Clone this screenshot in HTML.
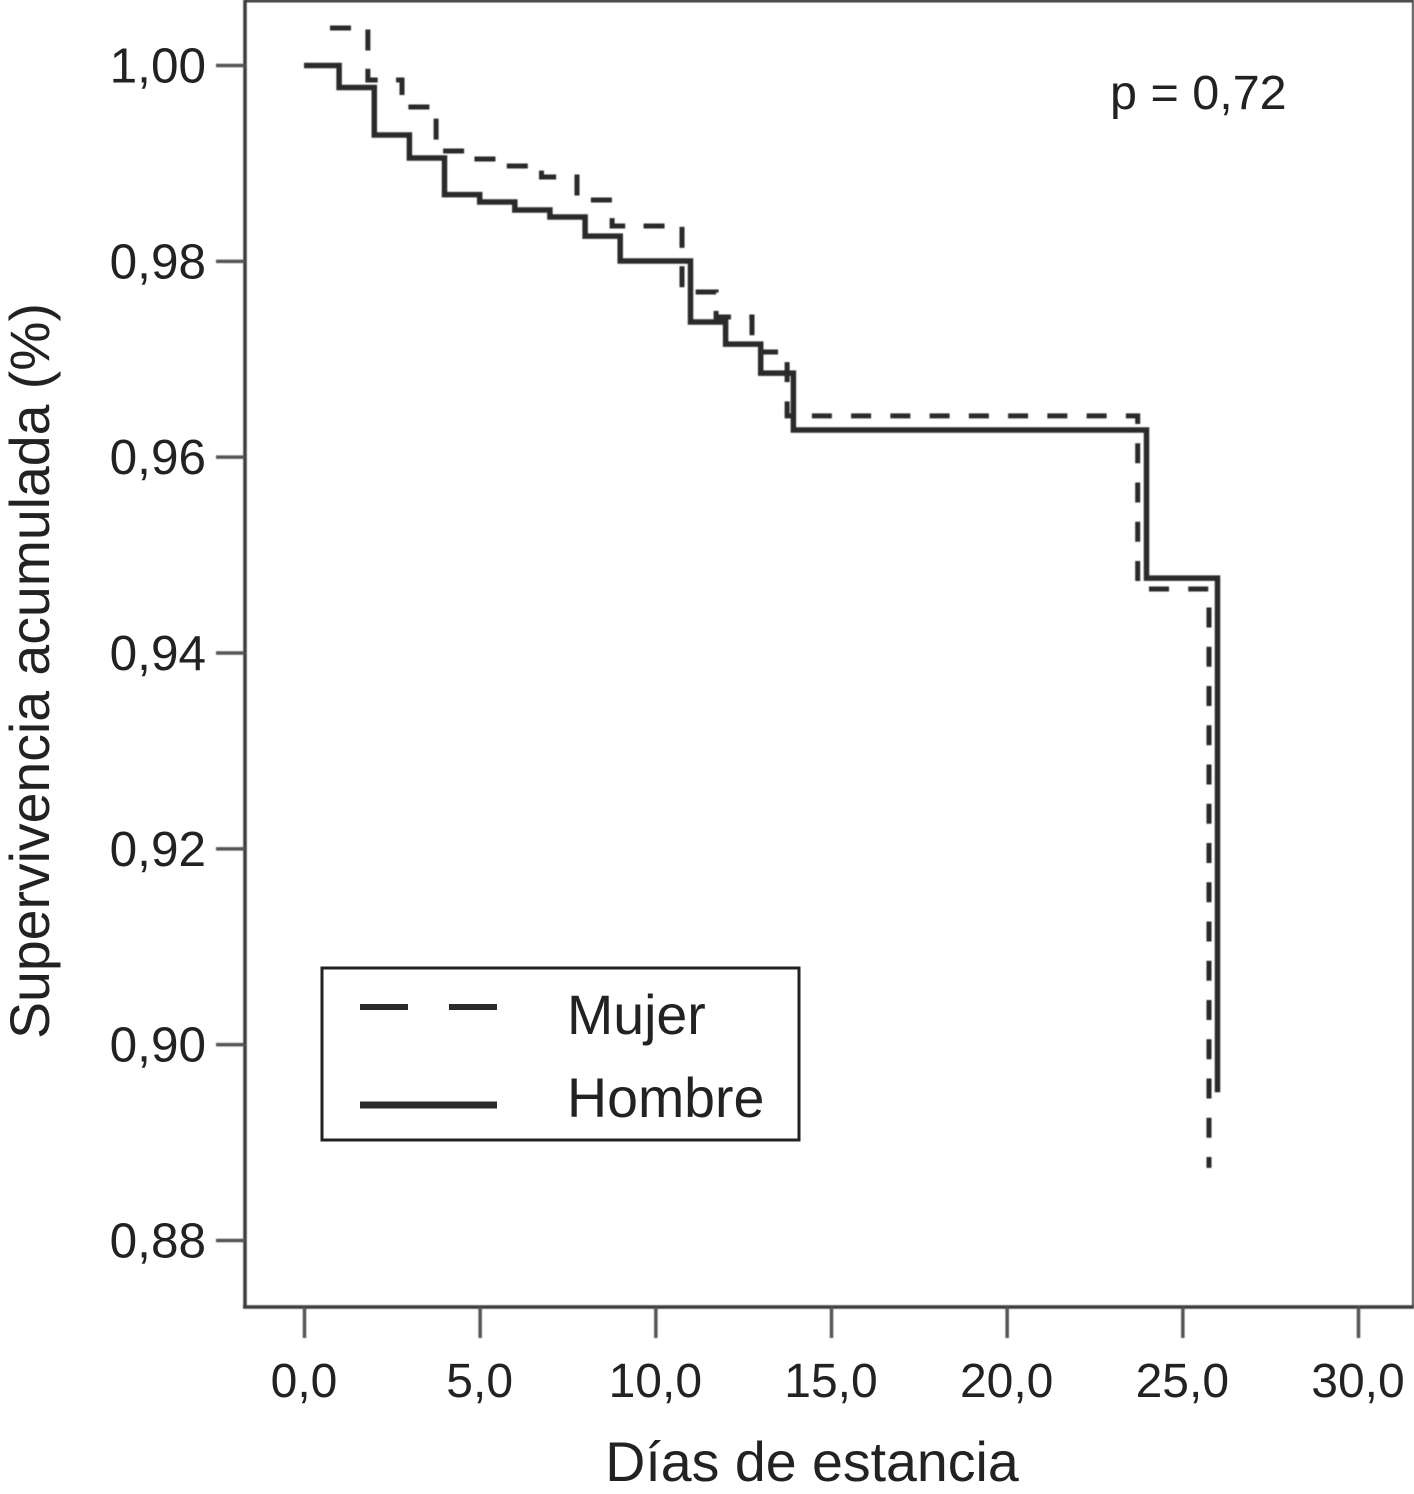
<!DOCTYPE html>
<html lang="es">
<head>
<meta charset="utf-8">
<title>Supervivencia acumulada</title>
<style>
html,body{margin:0;padding:0;background:#fff;}
svg{display:block;font-family:"Liberation Sans",Arial,sans-serif;}
text{fill:#222;}
</style>
</head>
<body>
<svg id="chart" xmlns="http://www.w3.org/2000/svg" width="1414" height="1494" viewBox="0 0 1414 1494">
  <defs><filter id="soft" x="-5%" y="-5%" width="110%" height="110%"><feGaussianBlur stdDeviation="0.6"/></filter></defs>
  <rect width="1414" height="1494" fill="#fff"/>
  <g id="axes" filter="url(#soft)">
    <line x1="244" y1="1" x2="1414" y2="1" stroke="#444" stroke-width="3"/>
    <line x1="1413" y1="0" x2="1413" y2="1307" stroke="#444" stroke-width="2"/>
    <line x1="245" y1="0" x2="245" y2="1308" stroke="#3a3a3a" stroke-width="3.5"/>
    <line x1="243" y1="1307" x2="1414" y2="1307" stroke="#3a3a3a" stroke-width="3.5"/>
  </g>
  <g id="ticks" filter="url(#soft)"></g>
  <g id="tick-labels"></g>
  <g id="series" filter="url(#soft)"></g>
  <text x="1110" y="109" font-size="48.5">p = 0,72</text>
  <text x="812" y="1481" font-size="55.5" text-anchor="middle">Días de estancia</text>
  <text transform="translate(49,671) rotate(-90)" font-size="55.4" text-anchor="middle">Supervivencia acumulada (%)</text>
  <g>
    <rect x="322" y="968" width="477" height="172" fill="#fff" stroke="#222" stroke-width="3"/>
    <line x1="360" y1="1007" x2="408" y2="1007" stroke="#2a2a2a" stroke-width="6"/>
    <line x1="449" y1="1007" x2="497" y2="1007" stroke="#2a2a2a" stroke-width="6"/>
    <text x="567" y="1034" font-size="55.5">Mujer</text>
    <line x1="360" y1="1105" x2="497" y2="1105" stroke="#2a2a2a" stroke-width="7"/>
    <text x="567" y="1117" font-size="55.5">Hombre</text>
  </g>
</svg>
<script>
const xTickValues = [0, 5, 10, 15, 20, 25, 30];
const xTickLabels = ["0,0", "5,0", "10,0", "15,0", "20,0", "25,0", "30,0"];
const yTickValues = [1.00, 0.98, 0.96, 0.94, 0.92, 0.90, 0.88];
const yTickLabels = ["1,00", "0,98", "0,96", "0,94", "0,92", "0,90", "0,88"];

const hombreDays = [0, 1, 2, 3, 4, 5, 6, 7, 8, 9, 11, 12, 13, 13.93, 23.98, 26];
const hombreSurvival = [1.0, 0.99775, 0.9929, 0.99055, 0.98682, 0.98606, 0.98524, 0.98453, 0.98258, 0.98003, 0.9738, 0.97155, 0.96859, 0.96277, 0.94765, 0.89515];

const mujerDays = [0.74, 1.82, 2.79, 3.76, 4.76, 5.76, 6.76, 7.77, 8.77, 10.76, 11.73, 12.75, 13.75, 23.73, 25.76];
const mujerSurvival = [1.00383, 0.99852, 0.99576, 0.99127, 0.99045, 0.98974, 0.98861, 0.98626, 0.98361, 0.97687, 0.97432, 0.97074, 0.96421, 0.94654, 0.88741];

function xScale(day) { return 304 + day * (1358 - 304) / 30; }
function yScale(v) { return 65.5 + (1 - v) * (1240.5 - 65.5) / 0.12; }

const NS = "http://www.w3.org/2000/svg";

function stepPath(days, surv, from, to) {
  let d = "M" + xScale(days[from]).toFixed(1) + " " + yScale(surv[from]).toFixed(1);
  for (let i = from + 1; i <= to; i++) {
    d += "H" + xScale(days[i]).toFixed(1) + "V" + yScale(surv[i]).toFixed(1);
  }
  return d;
}

const ticks = document.getElementById("ticks");
const labels = document.getElementById("tick-labels");

xTickValues.forEach(function (value, i) {
  const x = xScale(value);
  const tick = document.createElementNS(NS, "line");
  tick.setAttribute("x1", x + 0.5); tick.setAttribute("x2", x + 0.5);
  tick.setAttribute("y1", 1307); tick.setAttribute("y2", 1338);
  tick.setAttribute("stroke", "#555"); tick.setAttribute("stroke-width", "3.5");
  
  
  ticks.appendChild(tick);
  const label = document.createElementNS(NS, "text");
  label.setAttribute("x", x); label.setAttribute("y", 1397);
  label.setAttribute("font-size", "48"); label.setAttribute("text-anchor", "middle");
  label.textContent = xTickLabels[i];
  
  
  labels.appendChild(label);
});

yTickValues.forEach(function (value, i) {
  const y = yScale(value);
  const tick = document.createElementNS(NS, "line");
  tick.setAttribute("x1", 216); tick.setAttribute("x2", 245);
  tick.setAttribute("y1", y); tick.setAttribute("y2", y);
  tick.setAttribute("stroke", "#555"); tick.setAttribute("stroke-width", "3.5");
  
  
  ticks.appendChild(tick);
  const label = document.createElementNS(NS, "text");
  label.setAttribute("x", 206); label.setAttribute("y", y + 17);
  label.setAttribute("font-size", "49.5"); label.setAttribute("text-anchor", "end");
  label.textContent = yTickLabels[i];
  
  
  labels.appendChild(label);
});

const series = document.getElementById("series");

const splitIndex = 11;

const mujerEarly = document.createElementNS(NS, "path");
mujerEarly.setAttribute("d", stepPath(mujerDays, mujerSurvival, 0, splitIndex));
mujerEarly.setAttribute("fill", "none");
mujerEarly.setAttribute("stroke", "#2a2a2a");
mujerEarly.setAttribute("stroke-width", "5");
mujerEarly.setAttribute("stroke-dasharray", "21 18.35");


series.appendChild(mujerEarly);

const mujerLate = document.createElementNS(NS, "path");
mujerLate.setAttribute("d", stepPath(mujerDays, mujerSurvival, splitIndex, mujerDays.length - 1));
mujerLate.setAttribute("fill", "none");
mujerLate.setAttribute("stroke", "#2a2a2a");
mujerLate.setAttribute("stroke-width", "5");
mujerLate.setAttribute("stroke-dasharray", "20 19.25");
mujerLate.setAttribute("stroke-dashoffset", "33.25");


series.appendChild(mujerLate);

const hombre = document.createElementNS(NS, "path");
hombre.setAttribute("d", stepPath(hombreDays, hombreSurvival, 0, hombreDays.length - 1));
hombre.setAttribute("fill", "none");
hombre.setAttribute("stroke", "#2a2a2a");
hombre.setAttribute("stroke-width", "5.5");


series.appendChild(hombre);
</script>
</body>
</html>
